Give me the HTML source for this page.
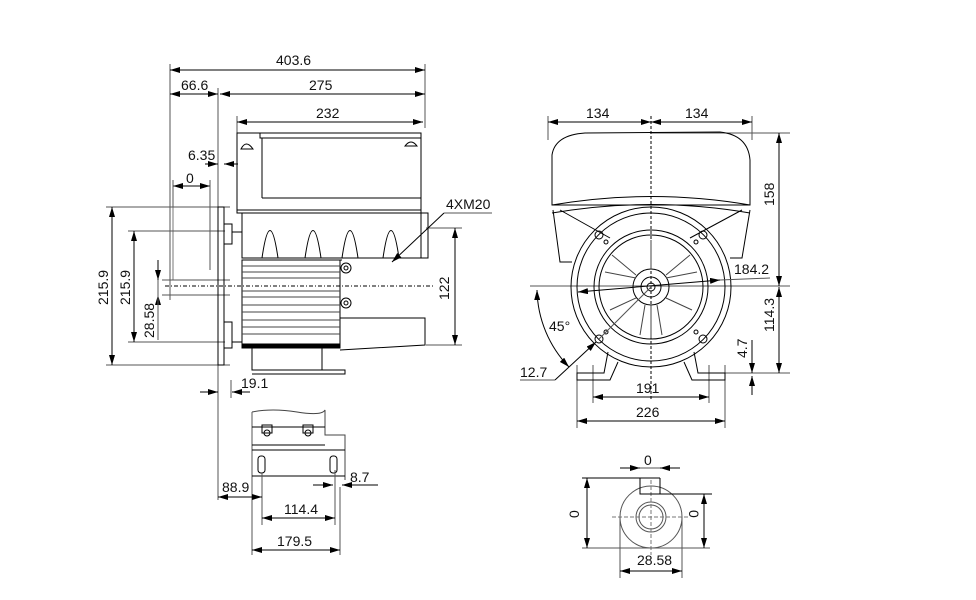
<!DOCTYPE html>
<html><head><meta charset="utf-8"><style>
html,body{margin:0;padding:0;background:#fff;}
svg{display:block;}
text{font-family:"Liberation Sans",sans-serif;font-size:14px;fill:#111;}
</style></head><body>
<svg width="976" height="600" viewBox="0 0 976 600" xmlns="http://www.w3.org/2000/svg">
<defs>
<marker id="a" viewBox="0 0 10 6" refX="10" refY="3" markerWidth="10" markerHeight="6" orient="auto-start-reverse" markerUnits="userSpaceOnUse"><path d="M0,0 L10,3 L0,6z" fill="#000"/></marker>
</defs>
<g stroke="#000" stroke-width="1" fill="none">
<g stroke="#555">
<line x1="170" y1="64" x2="170" y2="300"/>
<line x1="218" y1="88" x2="218" y2="500"/>
<line x1="425" y1="64" x2="425" y2="128"/>
<line x1="237" y1="116" x2="237" y2="133"/>
<line x1="231" y1="380" x2="231" y2="398"/>
</g>
<line x1="170" y1="70" x2="425" y2="70" marker-start="url(#a)" marker-end="url(#a)"/>
<line x1="170" y1="94" x2="218" y2="94" marker-start="url(#a)" marker-end="url(#a)"/>
<line x1="220" y1="94" x2="425" y2="94" marker-start="url(#a)" marker-end="url(#a)"/>
<line x1="237" y1="122" x2="423" y2="122" marker-start="url(#a)" marker-end="url(#a)"/>
<line x1="205" y1="164" x2="218" y2="164" marker-end="url(#a)"/>
<line x1="238" y1="164" x2="224" y2="164" marker-end="url(#a)"/>
<line x1="173" y1="186" x2="210" y2="186" marker-start="url(#a)" marker-end="url(#a)"/>
<line x1="173" y1="180" x2="173" y2="280" stroke="#555"/>
<line x1="210" y1="180" x2="210" y2="270" stroke="#555"/>
<rect x="173" y="207" width="45" height="73" stroke="#777"/>
<line x1="162" y1="280" x2="230" y2="280" stroke="#555"/>
<line x1="162" y1="295" x2="230" y2="295" stroke="#555"/>
<line x1="106" y1="207" x2="230" y2="207" stroke="#555"/>
<line x1="106" y1="365" x2="230" y2="365" stroke="#555"/>
<line x1="112" y1="207" x2="112" y2="365" marker-start="url(#a)" marker-end="url(#a)"/>
<line x1="128" y1="231" x2="225" y2="231" stroke="#555"/>
<line x1="128" y1="342" x2="225" y2="342" stroke="#555"/>
<line x1="134" y1="231" x2="134" y2="342" marker-start="url(#a)" marker-end="url(#a)"/>
<line x1="158" y1="260" x2="158" y2="280" marker-end="url(#a)"/>
<line x1="158" y1="315" x2="158" y2="295" marker-end="url(#a)"/>
<line x1="158" y1="280" x2="158" y2="340" stroke="#555"/>
<line x1="165" y1="286" x2="435" y2="286" stroke-dasharray="4,2,1,2"/>
<rect x="218" y="207" width="6" height="158"/>
<rect x="224" y="224" width="8" height="20"/>
<rect x="224" y="322" width="8" height="26"/>
<line x1="232" y1="232" x2="242" y2="232"/>
<line x1="232" y1="342" x2="242" y2="342"/>
<path d="M237,133 L421,133 L421,213 L237,213 Z"/>
<rect x="260" y="133" width="161" height="5"/>
<line x1="262" y1="138" x2="262" y2="198"/>
<line x1="262" y1="198" x2="421" y2="198"/>
<path d="M241,149 q5,-10 12,0z M405,146 q6,-8 12,0z"/>
<line x1="237" y1="210" x2="421" y2="210"/>
<path d="M242,213 L242,258 L421,258 L421,213"/>
<rect x="421" y="213" width="7" height="45"/>
<path d="M262,258 q8,-55 16,0z M305,258 q8,-55 16,0z M342,258 q8,-55 16,0 M383,258 q8,-55 16,0"/>
<line x1="242" y1="260" x2="342" y2="260"/>
<rect x="242" y="260" width="98" height="86"/>
<g stroke="#444">
<line x1="242" y1="266" x2="340" y2="266"/><line x1="242" y1="272" x2="340" y2="272"/>
<line x1="242" y1="278" x2="340" y2="278"/><line x1="242" y1="291" x2="340" y2="291"/>
<line x1="242" y1="297" x2="340" y2="297"/><line x1="242" y1="305" x2="340" y2="305"/>
<line x1="242" y1="312" x2="340" y2="312"/><line x1="242" y1="320" x2="340" y2="320"/>
<line x1="242" y1="327" x2="340" y2="327"/><line x1="242" y1="334" x2="340" y2="334"/>
</g>
<circle cx="346" cy="268" r="5"/><circle cx="346" cy="268" r="2"/>
<circle cx="346" cy="303" r="5"/><circle cx="346" cy="303" r="2"/>
<path d="M340,318 L425,318 L425,345 L340,350"/>
<rect x="242" y="344" width="98" height="4" fill="#000"/>
<path d="M252,348 L252,370 L345,370 L345,374 L252,374 M322,348 L322,370"/>
<line x1="426" y1="228" x2="462" y2="228" stroke="#555"/>
<line x1="426" y1="345" x2="462" y2="345" stroke="#555"/>
<line x1="455" y1="228" x2="455" y2="345" marker-start="url(#a)" marker-end="url(#a)"/>
<line x1="492" y1="213" x2="444" y2="213" stroke="#555"/>
<line x1="444" y1="213" x2="392" y2="262" marker-end="url(#a)"/>
<line x1="200" y1="392" x2="218" y2="392" marker-end="url(#a)"/>
<line x1="250" y1="392" x2="232" y2="392" marker-end="url(#a)"/>
<path d="M252,412 q20,-4 45,0 t28,-2 L325,435 L345,435 L345,480" stroke="#444"/>
<line x1="252" y1="412" x2="252" y2="555" stroke="#555"/>
<line x1="252" y1="427" x2="325" y2="427"/>
<line x1="252" y1="445" x2="325" y2="445"/>
<line x1="252" y1="450" x2="345" y2="450"/>
<line x1="252" y1="476" x2="345" y2="476"/>
<rect x="262" y="425" width="10" height="8"/><rect x="303" y="425" width="10" height="8"/>
<circle cx="267" cy="433" r="3"/><circle cx="308" cy="433" r="3"/>
<rect x="258" y="456" width="7" height="17" rx="3"/><rect x="330" y="456" width="7" height="17" rx="3"/>
<line x1="262" y1="473" x2="262" y2="525" stroke="#555"/>
<line x1="335" y1="470" x2="335" y2="525" stroke="#555"/>
<line x1="340" y1="487" x2="340" y2="555" stroke="#555"/>
<line x1="218" y1="497" x2="262" y2="497" marker-start="url(#a)" marker-end="url(#a)"/>
<line x1="262" y1="518" x2="335" y2="518" marker-start="url(#a)" marker-end="url(#a)"/>
<line x1="252" y1="550" x2="340" y2="550" marker-start="url(#a)" marker-end="url(#a)"/>
<line x1="313" y1="485" x2="333" y2="485" marker-end="url(#a)"/>
<line x1="378" y1="485" x2="342" y2="485" marker-end="url(#a)"/>
<g stroke="#555">
<line x1="548" y1="116" x2="548" y2="140"/>
<line x1="752" y1="116" x2="752" y2="140"/>
<line x1="651" y1="116" x2="651" y2="400" stroke="#000" stroke-dasharray="3,2"/>
<line x1="650" y1="133" x2="790" y2="133"/>
<line x1="530" y1="286" x2="790" y2="286"/>
<line x1="720" y1="373" x2="790" y2="373"/>
<line x1="577" y1="365" x2="577" y2="428"/>
<line x1="725" y1="365" x2="725" y2="428"/>
<line x1="593" y1="365" x2="593" y2="403"/>
<line x1="709" y1="365" x2="709" y2="403"/>
</g>
<line x1="548" y1="122" x2="651" y2="122" marker-start="url(#a)" marker-end="url(#a)"/>
<line x1="651" y1="122" x2="752" y2="122" marker-start="url(#a)" marker-end="url(#a)"/>
<path d="M552,205 L552,155 Q555,135 585,133 L720,132 Q748,135 750,160 L750,205 Z"/>
<path d="M552,205 Q651,188 750,205 M552,213 Q651,196 750,213"/>
<path d="M553,210 L560,262 L572,262 M750,210 L742,258 L730,258"/>
<line x1="560" y1="210" x2="610" y2="238"/><line x1="742" y1="210" x2="690" y2="238"/>
<circle cx="651" cy="287" r="80"/>
<circle cx="651" cy="287" r="74"/>
<circle cx="651" cy="287" r="57"/>
<circle cx="651" cy="287" r="52"/>
<circle cx="651" cy="287" r="18"/>
<circle cx="651" cy="287" r="10"/>
<circle cx="651" cy="287" r="4"/>
<g stroke="#444">
<line x1="636" y1="278" x2="605" y2="272"/><line x1="636" y1="275" x2="612" y2="255"/>
<line x1="666" y1="278" x2="697" y2="272"/><line x1="666" y1="275" x2="690" y2="255"/>
<line x1="645" y1="305" x2="640" y2="335"/><line x1="657" y1="305" x2="662" y2="335"/>
<line x1="651" y1="305" x2="651" y2="338"/>
<line x1="636" y1="298" x2="610" y2="310"/><line x1="666" y1="298" x2="692" y2="310"/>
<line x1="651" y1="269" x2="651" y2="240"/>
</g>
<circle cx="599" cy="235" r="4"/><circle cx="703" cy="235" r="4"/>
<circle cx="599" cy="339" r="4"/><circle cx="703" cy="339" r="4"/>
<circle cx="606" cy="242" r="2"/><circle cx="696" cy="242" r="2"/>
<circle cx="606" cy="332" r="2"/><circle cx="696" cy="332" r="2"/>
<path d="M608,352 L604,373 L577,373 L577,380 L610,380 L618,362"/>
<path d="M694,352 L698,373 L725,373 L725,380 L692,380 L684,362"/>
<line x1="779" y1="133" x2="779" y2="286" marker-start="url(#a)" marker-end="url(#a)"/>
<line x1="779" y1="287" x2="779" y2="373" marker-start="url(#a)" marker-end="url(#a)"/>
<line x1="752" y1="340" x2="752" y2="373" marker-end="url(#a)"/>
<line x1="752" y1="395" x2="752" y2="376" marker-end="url(#a)"/>
<line x1="720" y1="280" x2="578" y2="292" marker-start="url(#a)" marker-end="url(#a)"/>
<line x1="720" y1="280" x2="770" y2="278" stroke="#555"/>
<path d="M537,290 A114,114 0 0 0 569,367" marker-start="url(#a)" marker-end="url(#a)"/>
<line x1="651" y1="287" x2="599" y2="339" stroke="#555"/>
<line x1="520" y1="380" x2="555" y2="380" stroke="#555"/>
<line x1="555" y1="380" x2="596" y2="342" marker-end="url(#a)"/>
<line x1="593" y1="397" x2="709" y2="397" marker-start="url(#a)" marker-end="url(#a)"/>
<line x1="577" y1="421" x2="725" y2="421" marker-start="url(#a)" marker-end="url(#a)"/>
<circle cx="651" cy="517" r="31" stroke="#555"/>
<circle cx="651" cy="517" r="15" stroke="#555"/>
<circle cx="651" cy="517" r="12" stroke="#555"/>
<line x1="612" y1="517" x2="690" y2="517" stroke="#777" stroke-dasharray="4,2"/>
<line x1="651" y1="480" x2="651" y2="555" stroke="#777" stroke-dasharray="4,2"/>
<path d="M640,478 L640,494 L660,494 L660,478"/>
<line x1="620" y1="468" x2="680" y2="468" stroke="#555"/>
<line x1="620" y1="468" x2="640" y2="468" marker-end="url(#a)"/>
<line x1="680" y1="468" x2="660" y2="468" marker-end="url(#a)"/>
<line x1="582" y1="478" x2="660" y2="478"/>
<line x1="660" y1="494" x2="712" y2="494"/>
<line x1="582" y1="548" x2="710" y2="548" stroke="#555"/>
<line x1="587" y1="478" x2="587" y2="548" marker-start="url(#a)" marker-end="url(#a)"/>
<line x1="704" y1="494" x2="704" y2="548" marker-start="url(#a)" marker-end="url(#a)"/>
<line x1="620" y1="517" x2="620" y2="578" stroke="#555"/>
<line x1="682" y1="517" x2="682" y2="578" stroke="#555"/>
<line x1="620" y1="571" x2="682" y2="571" marker-start="url(#a)" marker-end="url(#a)"/>
</g>
<text x="276" y="65">403.6</text>
<text x="181" y="90">66.6</text>
<text x="309" y="90">275</text>
<text x="316" y="118">232</text>
<text x="188" y="160">6.35</text>
<text x="186" y="183">0</text>
<text x="446" y="209">4XM20</text>
<text x="241" y="388">19.1</text>
<text transform="translate(108,305) rotate(-90)">215.9</text>
<text transform="translate(130,305) rotate(-90)">215.9</text>
<text transform="translate(154,338) rotate(-90)">28.58</text>
<text transform="translate(449,300) rotate(-90)">122</text>
<text x="222" y="492">88.9</text>
<text x="284" y="514">114.4</text>
<text x="277" y="546">179.5</text>
<text x="350" y="482">8.7</text>
<text x="586" y="118">134</text>
<text x="685" y="118">134</text>
<text x="734" y="274">184.2</text>
<text x="549" y="331">45°</text>
<text x="520" y="377">12.7</text>
<text x="636" y="393">191</text>
<text x="636" y="417">226</text>
<text transform="translate(774,206) rotate(-90)">158</text>
<text transform="translate(774,332) rotate(-90)">114.3</text>
<text transform="translate(747,358) rotate(-90)">4.7</text>
<text x="644" y="465">0</text>
<text transform="translate(579,518) rotate(-90)">0</text>
<text transform="translate(689,510) rotate(90)">0</text>
<text x="637" y="565">28.58</text>
</svg>
</body></html>
